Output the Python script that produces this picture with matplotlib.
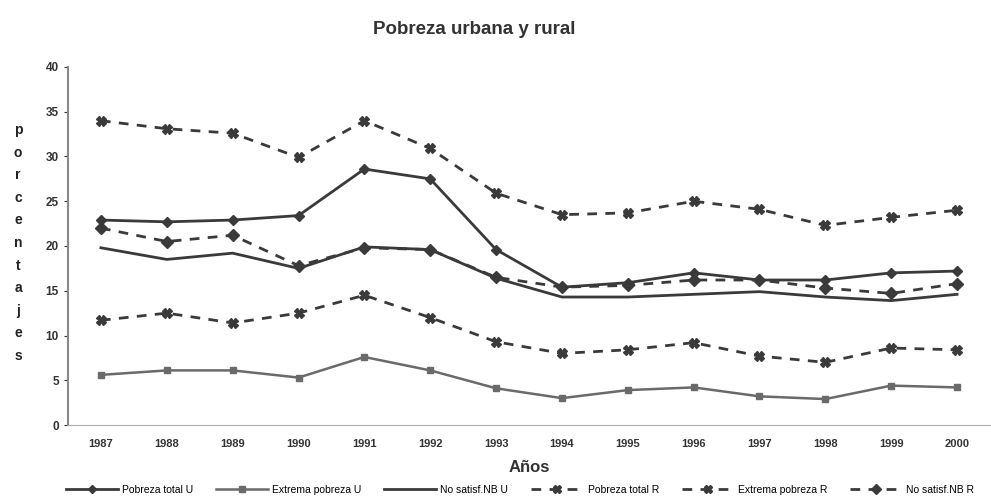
import matplotlib
matplotlib.use("Agg")
import matplotlib.pyplot as plt
import numpy as np

plt.rcParams['font.family'] = ['Liberation Sans', 'DejaVu Sans']

years = ["1987", "1988", "1989", "1990", "1991", "1992", "1993", "1994",
         "1995", "1996", "1997", "1998", "1999", "2000"]

pobreza_total_u = [22.9, 22.7, 22.9, 23.4, 28.6, 27.5, 19.6, 15.4, 15.9, 17.0, 16.2, 16.2, 17.0, 17.2]
extrema_pobreza_u = [5.6, 6.1, 6.1, 5.3, 7.6, 6.1, 4.1, 3.0, 3.9, 4.2, 3.2, 2.9, 4.4, 4.2]
no_satisf_nb_u = [19.8, 18.5, 19.2, 17.5, 19.9, 19.6, 16.4, 14.3, 14.3, 14.6, 14.9, 14.3, 13.9, 14.6]
pobreza_total_r = [34.0, 33.1, 32.6, 29.9, 34.0, 30.9, 25.9, 23.5, 23.7, 25.0, 24.1, 22.3, 23.2, 24.0]
extrema_pobreza_r = [11.7, 12.5, 11.4, 12.5, 14.5, 12.0, 9.3, 8.0, 8.4, 9.2, 7.7, 7.0, 8.6, 8.4]
no_satisf_nb_r = [22.0, 20.5, 21.2, 17.8, 19.8, 19.6, 16.5, 15.4, 15.6, 16.2, 16.2, 15.3, 14.7, 15.8]

labels = ["Pobreza total U", "Extrema pobreza U", "No satisf.NB U",
          "Pobreza total R", "Extrema pobreza R", "No satisf.NB R"]

fig = plt.figure(figsize=(9.91, 5.01), dpi=100)
ax = fig.add_axes([68/991, 1-425/501, (990-68)/991, (425-67)/501])

x = np.arange(len(years))
dark = '#3a3a3a'
dash = (0, (3.5, 3))
ax.plot(x, pobreza_total_u, color=dark, lw=2.0, marker='D', ms=5, label=labels[0])
ax.plot(x, extrema_pobreza_u, color='#6a6a6a', lw=1.8, marker='s', ms=5, label=labels[1])
ax.plot(x, no_satisf_nb_u, color=dark, lw=2.0, label=labels[2])
ax.plot(x, pobreza_total_r, color=dark, lw=2.0, ls=dash, marker='X', ms=7, label=labels[3])
ax.plot(x, extrema_pobreza_r, color=dark, lw=2.0, ls=dash, marker='X', ms=7, label=labels[4])
ax.plot(x, no_satisf_nb_r, color=dark, lw=2.0, ls=dash, marker='D', ms=6, label=labels[5])

ax.set_xlim(-0.5, len(years) - 0.5)
ax.set_ylim(0, 40)
ax.set_yticks(np.arange(0, 41, 5))
ax.set_xticks(x)
ax.set_xticklabels(years, fontsize=8, fontweight='bold', color='#333333')
ax.tick_params(axis='y', labelsize=8.5, colors='#333333', length=3)
ax.tick_params(axis='x', length=0, pad=10)
for lab in ax.get_yticklabels():
    lab.set_fontweight('bold')
for s in ['top', 'right']:
    ax.spines[s].set_visible(False)
ax.spines['left'].set_color('#888888')
ax.spines['bottom'].set_color('#aaaaaa')
ax.spines['left'].set_linewidth(1.5)

fig.text(474/991, 1-29/501, "Pobreza urbana y rural", ha='center', va='center',
         fontsize=13.5, fontweight='bold', color='#333333')
fig.text(529/991, 1-468/501, "Años", ha='center', va='center',
         fontsize=12, fontweight='bold', color='#333333')
fig.text(18/991, 1-243/501, "\n".join("porcentajes"), ha='center', va='center',
         fontsize=10, fontweight='bold', color='#222222', linespacing=1.78)

fig.legend(loc='center', bbox_to_anchor=(520/991, 1-490/501), ncol=6, frameon=False,
           fontsize=7.5, handlelength=5, columnspacing=2.2, handletextpad=0.4,
           markerscale=0.8)

fig.savefig("out.png", dpi=100)
